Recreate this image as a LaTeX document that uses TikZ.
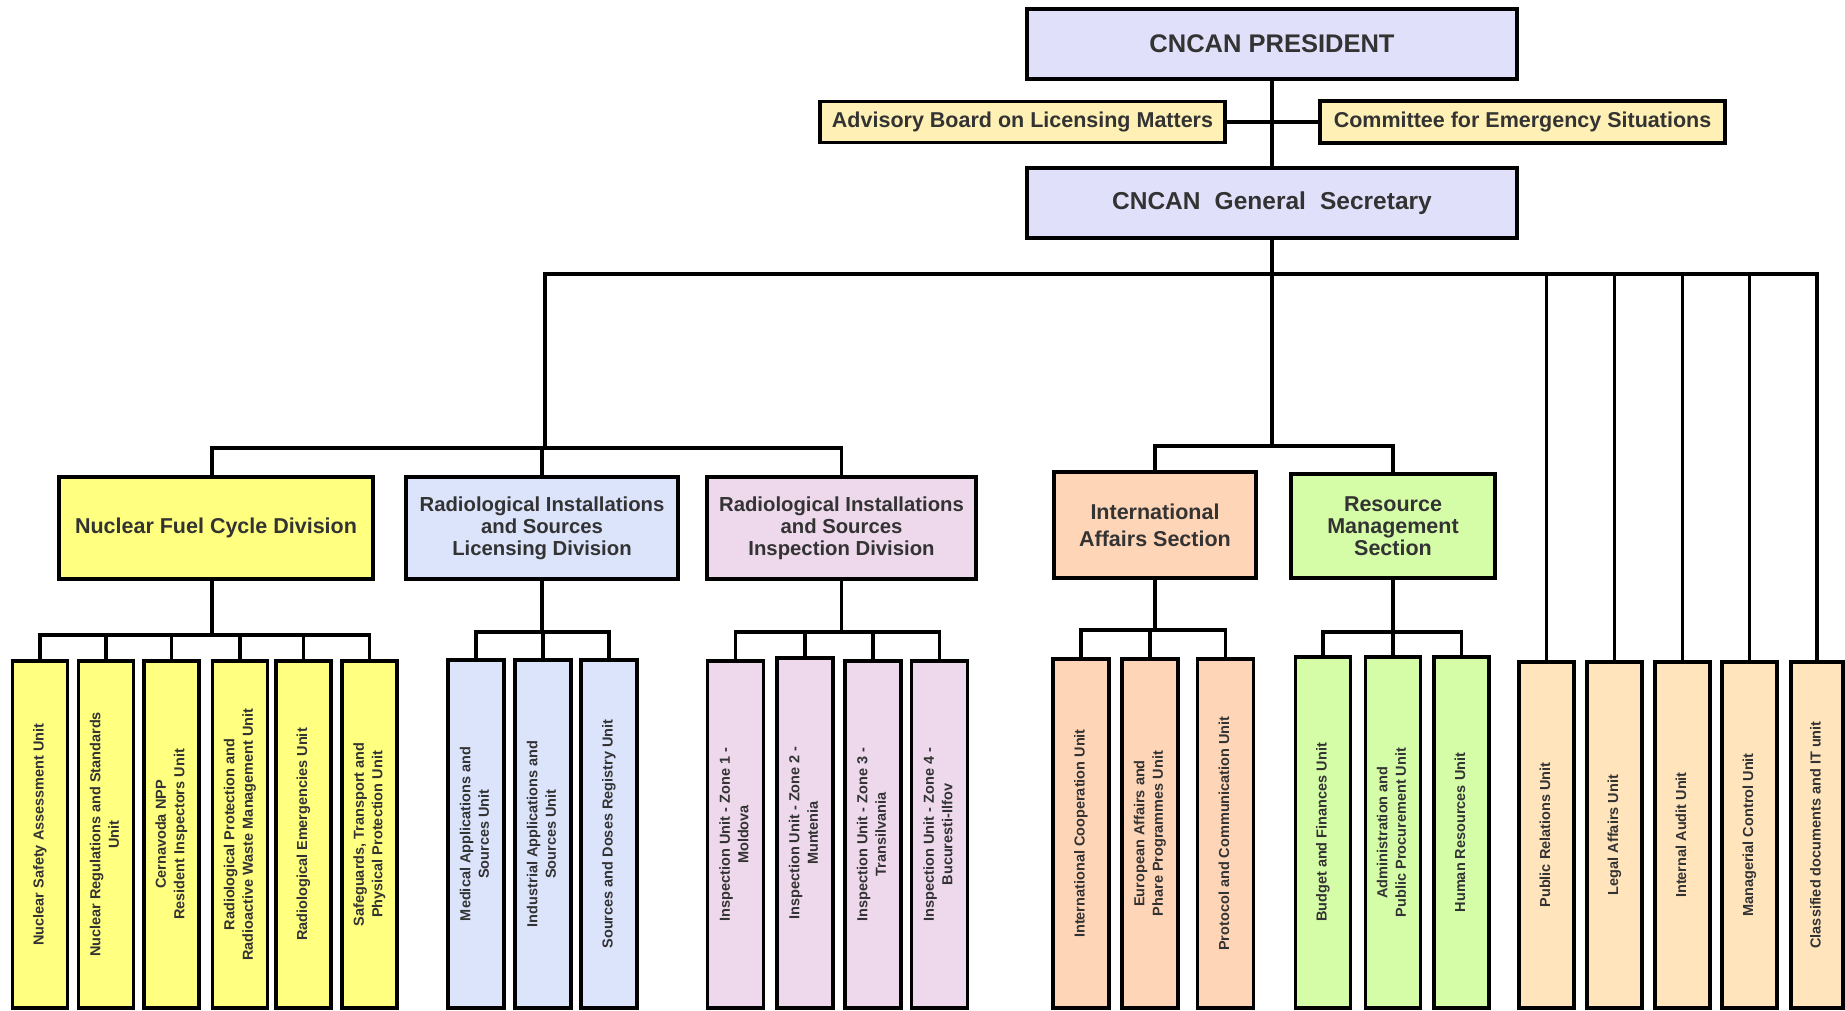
\documentclass[tikz,border=0pt]{standalone}
\usepackage{fontspec}
\setmainfont{Liberation Sans}
\usepackage{graphicx}
\pgfdeclarelayer{background}
\pgfsetlayers{background,main}
\definecolor{lav}{HTML}{E0E0FA}
\definecolor{advy}{HTML}{FFF0B5}
\definecolor{nfcy}{HTML}{FFFF80}
\definecolor{licb}{HTML}{DCE4FC}
\definecolor{inspc}{HTML}{EDD8EC}
\definecolor{peach}{HTML}{FFD5B8}
\definecolor{lgreen}{HTML}{D5FDA8}
\definecolor{beige}{HTML}{FFE4BC}
\definecolor{txt}{HTML}{333333}
\newcommand\vlab[1]{\rotatebox{90}{\begin{tabular}{@{}c@{}}#1\end{tabular}}}
\begin{document}
\begin{tikzpicture}[x=1pt,y=-1pt,
  box/.style={draw=black, line width=3.8pt, inner sep=0pt, align=center, text=txt},
  hdr/.style={font=\bfseries\fontsize{21.5}{22}\selectfont},
  unitbox/.style={box, minimum width=55pt, font=\bfseries\fontsize{14.5}{18.5}\selectfont},
  conn/.style={draw=black, line width=3.2pt, line cap=rect}]
\useasboundingbox (0,0) rectangle (1845,1011);

% top
\node[box, fill=lav, minimum width=490pt, minimum height=70pt, font=\bfseries\fontsize{25.5}{26}\selectfont] (pres) at (1272,44) {CNCAN PRESIDENT};
\node[box, fill=advy, hdr, minimum width=405pt, minimum height=41pt] (adv) at (1022.5,122) {Advisory Board on Licensing Matters};
\node[box, fill=advy, hdr, minimum width=405pt, minimum height=42pt] (com) at (1522.5,122) {Committee for Emergency Situations};
\node[box, fill=lav, minimum width=490pt, minimum height=70pt, font=\bfseries\fontsize{24.5}{26}\selectfont] (gs) at (1272,203) {CNCAN \hspace{0.3em}General \hspace{0.3em}Secretary};

% divisions
\node[box, fill=nfcy, hdr, minimum width=314pt, minimum height=102pt] (nfc) at (216,528) {Nuclear Fuel Cycle Division};
\node[box, fill=licb, font=\bfseries\fontsize{20.3}{21.8}\selectfont, minimum width=272pt, minimum height=102pt] (lic) at (542,528) {Radiological Installations\\and Sources\\Licensing Division};
\node[box, fill=inspc, font=\bfseries\fontsize{20.3}{21.8}\selectfont, minimum width=269pt, minimum height=102pt] (insp) at (841.5,528) {Radiological Installations\\and Sources\\Inspection Division};
\node[box, fill=peach, font=\bfseries\fontsize{21.5}{27}\selectfont, minimum width=202pt, minimum height=106pt] (intl) at (1155,525) {International\\Affairs Section};
\node[box, fill=lgreen, font=\bfseries\fontsize{21.5}{22}\selectfont, minimum width=204pt, minimum height=104pt] (res) at (1393,526) {Resource\\Management\\Section};

% NFC units
\node[unitbox, fill=nfcy, minimum height=347pt] (n1) at (40,834.5) {\vlab{Nuclear Safety Assessment Unit}};
\node[unitbox, fill=nfcy, minimum height=347pt] (n2) at (106,834.5) {\vlab{Nuclear Regulations and Standards\\Unit}};
\node[unitbox, fill=nfcy, minimum height=347pt] (n3) at (171.5,834.5) {\vlab{Cernavoda NPP\\Resident Inspectors Unit}};
\node[unitbox, fill=nfcy, minimum height=347pt] (n4) at (240,834.5) {\vlab{Radiological Protection and\\Radioactive Waste Management Unit}};
\node[unitbox, fill=nfcy, minimum height=347pt] (n5) at (303.5,834.5) {\vlab{Radiological Emergencies Unit}};
\node[unitbox, fill=nfcy, minimum height=347pt] (n6) at (369.5,834.5) {\vlab{Safeguards, Transport and\\Physical Protection Unit}};

% Licensing units
\node[unitbox, fill=licb, minimum width=56pt, minimum height=348pt] (l1) at (476,834) {\vlab{Medical Applications and\\Sources Unit}};
\node[unitbox, fill=licb, minimum width=56pt, minimum height=348pt] (l2) at (543,834) {\vlab{Industrial Applications and\\Sources Unit}};
\node[unitbox, fill=licb, minimum width=56pt, minimum height=348pt] (l3) at (609,834) {\vlab{Sources and Doses Registry Unit}};

% Inspection units
\node[unitbox, fill=inspc, minimum width=56pt, minimum height=347pt] (i1) at (735.5,834.5) {\vlab{Inspection Unit - Zone 1 -\\Moldova}};
\node[unitbox, fill=inspc, minimum width=56pt, minimum height=350pt] (i2) at (805,833) {\vlab{Inspection Unit - Zone 2 -\\Muntenia}};
\node[unitbox, fill=inspc, minimum width=56pt, minimum height=347pt] (i3) at (873,834.5) {\vlab{Inspection Unit - Zone 3 -\\Transilvania}};
\node[unitbox, fill=inspc, minimum width=56pt, minimum height=347pt] (i4) at (939.5,834.5) {\vlab{Inspection Unit - Zone 4 -\\Bucuresti-Ilfov}};

% International units
\node[unitbox, fill=peach, minimum width=56pt, minimum height=349pt] (a1) at (1081,833.5) {\vlab{International Cooperation Unit}};
\node[unitbox, fill=peach, minimum width=56pt, minimum height=349pt] (a2) at (1150,833.5) {\vlab{European Affairs and\\Phare Programmes Unit}};
\node[unitbox, fill=peach, minimum width=56pt, minimum height=349pt] (a3) at (1225.5,833.5) {\vlab{Protocol and Communication Unit}};

% Resource units
\node[unitbox, fill=lgreen, minimum height=351pt] (m1) at (1323,832.5) {\vlab{Budget and Finances Unit}};
\node[unitbox, fill=lgreen, minimum height=351pt] (m2) at (1393,832.5) {\vlab{Administration and\\Public Procurement Unit}};
\node[unitbox, fill=lgreen, minimum height=351pt] (m3) at (1461.5,832.5) {\vlab{Human Resources Unit}};

% Right units
\node[unitbox, fill=beige, minimum height=346pt] (r1) at (1546.5,835) {\vlab{Public Relations Unit}};
\node[unitbox, fill=beige, minimum height=346pt] (r2) at (1614.5,835) {\vlab{Legal Affairs Unit}};
\node[unitbox, fill=beige, minimum height=346pt] (r3) at (1682.5,835) {\vlab{Internal Audit Unit}};
\node[unitbox, fill=beige, minimum height=346pt] (r4) at (1749.5,835) {\vlab{Managerial Control Unit}};
\node[unitbox, fill=beige, minimum width=52pt, minimum height=346pt] (r5) at (1817,835) {\vlab{Classified documents and IT unit}};

\coordinate (mainbus) at (1272,274);
\coordinate (leftbus) at (545,448);
\coordinate (rightbus) at (1272,446);
\coordinate (nfcbus) at (212,635);
\coordinate (licbus) at (542,632);
\coordinate (inspbus) at (841.5,632);
\coordinate (intlbus) at (1155,630);
\coordinate (resbus) at (1393,632);

\begin{pgfonlayer}{background}
\fill[white] (0,0) rectangle (1845,1011);
\draw[conn] (pres.south) -- (gs.north);
\draw[conn] (adv.east) -- (com.west);
\draw[conn] (gs.south) -- (rightbus);
\draw[conn] (leftbus |- mainbus) -- (r5.north |- mainbus);
\draw[conn] (leftbus |- mainbus) -- (leftbus);
\foreach \i in {1,...,5} \draw[conn] (r\i.north |- mainbus) -- (r\i.north);
\draw[conn] (nfcbus |- nfc.north) |- (leftbus) -| (insp.north);
\draw[conn] (lic.north) -- (lic.north |- leftbus);
\draw[conn] (intl.north) |- (rightbus) -| (res.north);
% NFC
\draw[conn] (nfcbus |- nfc.south) -- (nfcbus);
\draw[conn] (n1.north) |- (nfcbus) -| (n6.north);
\foreach \i in {2,...,5} \draw[conn] (n\i.north |- nfcbus) -- (n\i.north);
% Licensing
\draw[conn] (lic.south) -- (licbus);
\draw[conn] (l1.north) |- (licbus) -| (l3.north);
\draw[conn] (l2.north |- licbus) -- (l2.north);
% Inspection
\draw[conn] (insp.south) -- (inspbus);
\draw[conn] (i1.north) |- (inspbus) -| (i4.north);
\foreach \i in {2,3} \draw[conn] (i\i.north |- inspbus) -- (i\i.north);
% International
\draw[conn] (intl.south) -- (intlbus);
\draw[conn] (a1.north) |- (intlbus) -| (a3.north);
\draw[conn] (a2.north |- intlbus) -- (a2.north);
% Resource
\draw[conn] (res.south) -- (resbus);
\draw[conn] (m1.north) |- (resbus) -| (m3.north);
\draw[conn] (m2.north |- resbus) -- (m2.north);
\end{pgfonlayer}
\end{tikzpicture}
\end{document}
